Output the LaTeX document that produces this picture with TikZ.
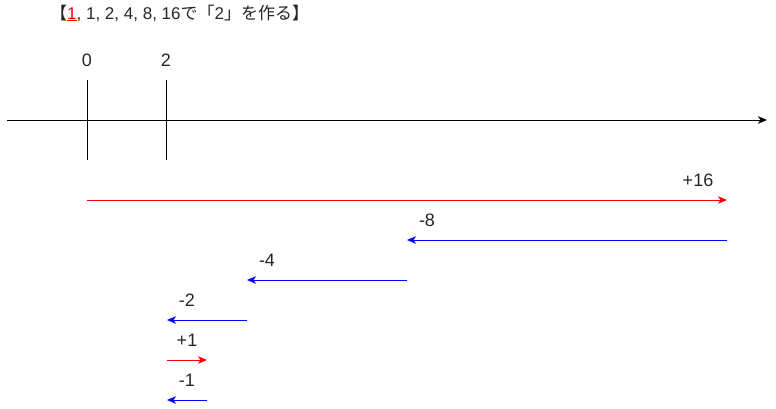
\documentclass[tikz,border=0pt]{standalone}
\usepackage{fontspec}
\setmainfont{Liberation Sans}
\newfontfamily\jpfont{Noto Sans CJK JP}
\usetikzlibrary{arrows.meta}
\begin{document}
\begin{tikzpicture}[x=1pt,y=-1pt,
  lbl/.style={font=\fontsize{18}{20}\selectfont, inner sep=0pt, text=black!85},
  jump/.style={line width=1pt, -{Stealth[length=9pt,width=7.5pt,inset=2.5pt]}},
  plus/.style={jump, red},
  minus/.style={jump, blue}]
\useasboundingbox (0,0) rectangle (776,409);
% axis
\coordinate (axL) at (7,120);
\coordinate (axR) at (767,120);
\draw[line width=0.9pt, -{Stealth[length=9pt,width=7.5pt,inset=2.5pt]}] (axL) -- (axR);
\coordinate (t0a) at (87,80); \coordinate (t0b) at (87,160);
\coordinate (t2a) at (166,80); \coordinate (t2b) at (166,160);
\draw[line width=0.9pt] (t0a) -- (t0b);
\draw[line width=0.9pt] (t2a) -- (t2b);
\node[lbl] (l0) at (87,60) {0};
\node[lbl] (l2) at (166,60) {2};
% title
\node[lbl, anchor=west, font=\fontsize{17}{19}\selectfont] (title) at (50,13)
  {{\jpfont 【}\textcolor{red}{\underline{1}}, 1, 2, 4, 8, 16{\jpfont で「}2{\jpfont 」を作る】}};
% jumps
\coordinate (a0) at (87,200); \coordinate (a1) at (727,200);
\coordinate (b0) at (727,240); \coordinate (b1) at (407,240);
\coordinate (c0) at (407,280); \coordinate (c1) at (247,280);
\coordinate (d0) at (247,320); \coordinate (d1) at (167,320);
\coordinate (e0) at (167,360); \coordinate (e1) at (207,360);
\coordinate (f0) at (207,400); \coordinate (f1) at (167,400);
\draw[plus] (a0) -- (a1);
\draw[minus] (b0) -- (b1);
\draw[minus] (c0) -- (c1);
\draw[minus] (d0) -- (d1);
\draw[plus] (e0) -- (e1);
\draw[minus] (f0) -- (f1);
\node[lbl] (p16) at (698,180) {+16};
\node[lbl] (m8) at (427,220) {-8};
\node[lbl] (m4) at (267,260) {-4};
\node[lbl] (m2) at (187,300) {-2};
\node[lbl] (p1) at (187,340) {+1};
\node[lbl] (m1) at (187,380) {-1};
\end{tikzpicture}
\end{document}
